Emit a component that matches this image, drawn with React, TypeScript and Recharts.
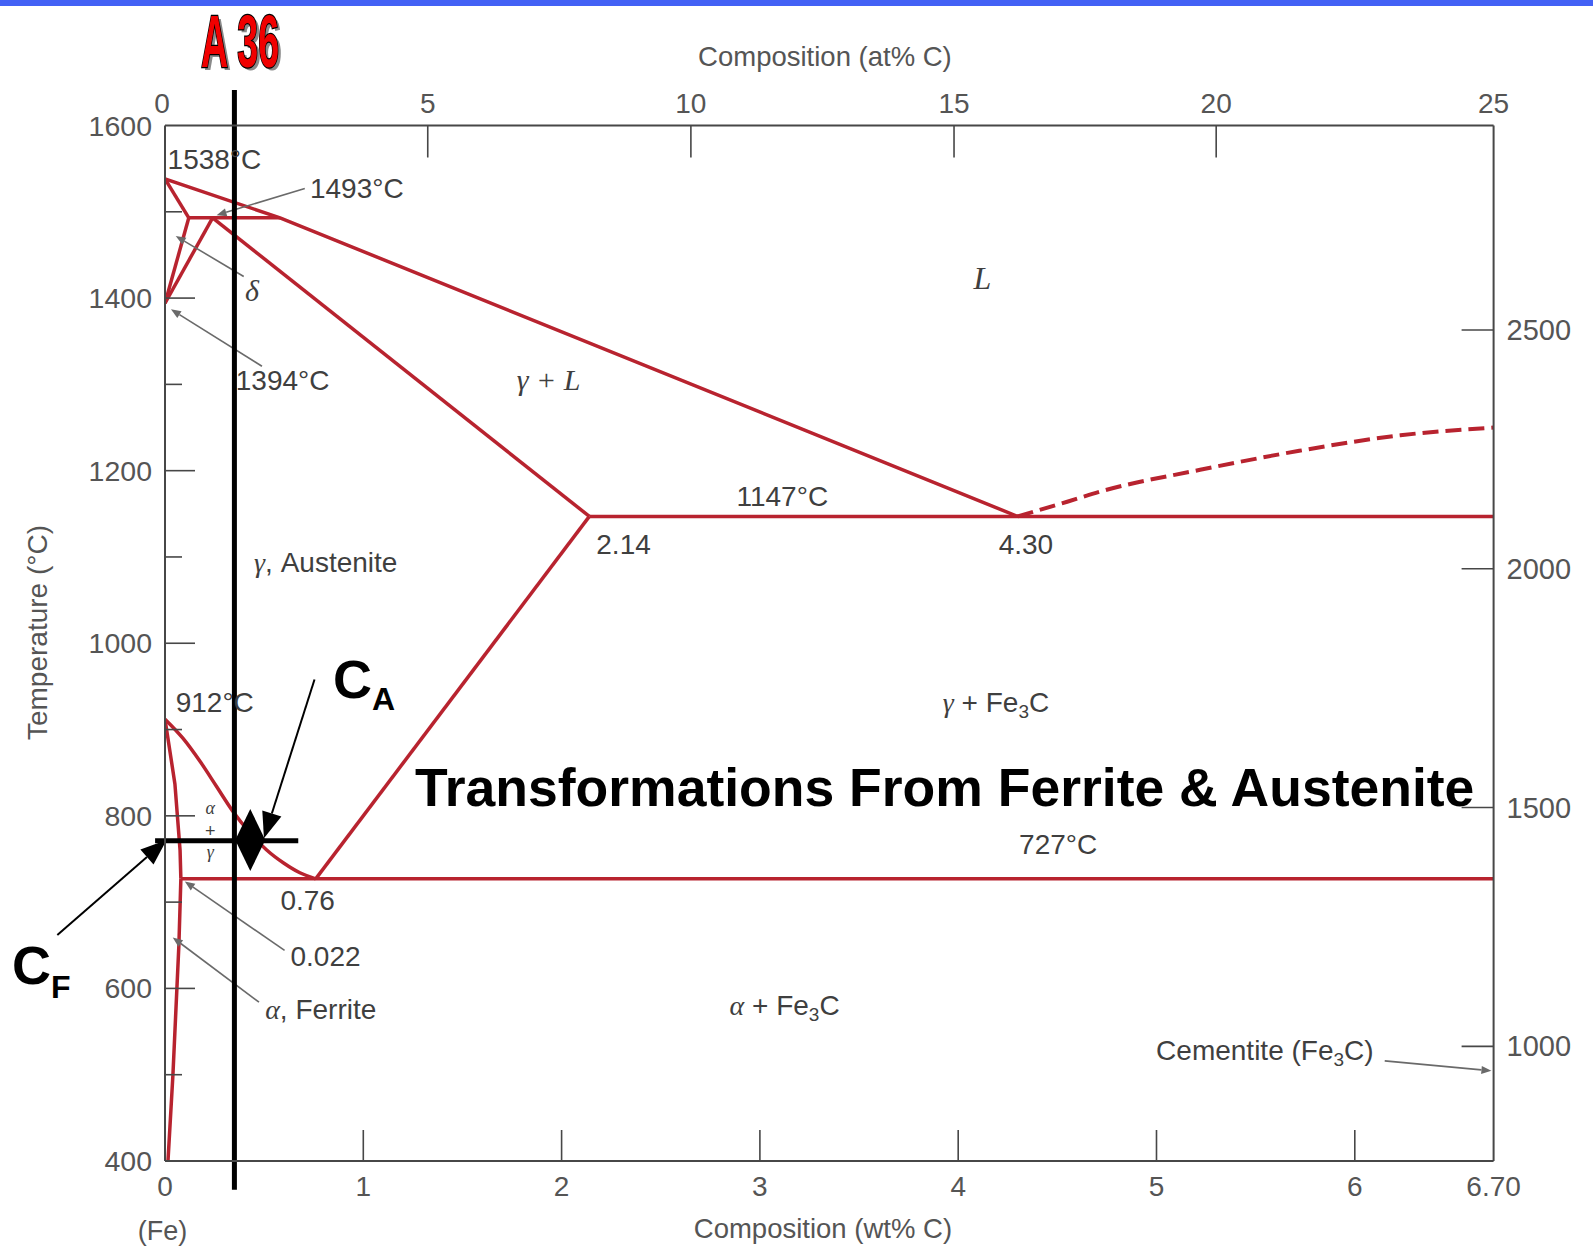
import React from "react";
import { ComposedChart, Line, XAxis, YAxis, ReferenceLine, ReferenceDot } from "recharts";

// Fe–Fe3C phase diagram: composition in wt% C (x), temperature in °C (y)
const liquidus = [{ x: 0, y: 1538 }, { x: 0.58, y: 1493 }, { x: 4.3, y: 1147 }];
const liquidusCementite = [
  { x: 4.3, y: 1147 }, { x: 4.55, y: 1164 }, { x: 4.72, y: 1176 }, { x: 5.22, y: 1201 },
  { x: 5.72, y: 1223 }, { x: 6.23, y: 1241 }, { x: 6.7, y: 1250 },
];
const deltaSolidus = [{ x: 0, y: 1538 }, { x: 0.12, y: 1493 }];
const peritectic = [{ x: 0.12, y: 1493 }, { x: 0.58, y: 1493 }];
const deltaSolvus = [{ x: 0.12, y: 1493 }, { x: 0, y: 1394 }];
const gammaDelta = [{ x: 0.24, y: 1493 }, { x: 0, y: 1394 }];
const gammaSolidus = [{ x: 0.24, y: 1493 }, { x: 2.14, y: 1147 }];
const eutectic = [{ x: 2.14, y: 1147 }, { x: 6.7, y: 1147 }];
const acm = [{ x: 0.76, y: 727 }, { x: 2.14, y: 1147 }];
const a3 = [
  { x: 0, y: 912 }, { x: 0.09, y: 890 }, { x: 0.18, y: 862 }, { x: 0.26, y: 834 },
  { x: 0.34, y: 806 }, { x: 0.43, y: 780 }, { x: 0.51, y: 761 }, { x: 0.6, y: 745 },
  { x: 0.68, y: 734 }, { x: 0.76, y: 727 },
];
const alphaGamma = [{ x: 0, y: 912 }, { x: 0.05, y: 837 }, { x: 0.076, y: 760 }, { x: 0.08, y: 727 }];
const eutectoid = [{ x: 0.08, y: 727 }, { x: 6.7, y: 727 }];
const alphaSolvus = [
  { x: 0.08, y: 727 }, { x: 0.07, y: 650 }, { x: 0.06, y: 600 }, { x: 0.04, y: 500 }, { x: 0.015, y: 400 },
];

const wtTicks = [0, 1, 2, 3, 4, 5, 6, 6.7];
const wtTickLabels = ["0", "1", "2", "3", "4", "5", "6", "6.70"];
// at% C ticks, placed where they fall on the wt% scale
const atTickPositions = [0, 1.325, 2.652, 3.979, 5.301, 6.7];
const atTickLabels = ["0", "5", "10", "15", "20", "25"];
const celsiusTicks = [400, 500, 600, 700, 800, 900, 1000, 1100, 1200, 1300, 1400, 1500, 1600];
const fahrenheitTicks = [1000, 1500, 2000, 2500];

const SANS = "'Liberation Sans', Arial, Helvetica, sans-serif";
const SERIF = "'Liberation Serif', 'DejaVu Serif', serif";
const NARROW = "'Liberation Sans Narrow', 'Liberation Sans', Arial, sans-serif";
const RED = "#b8232f";
const AXIS = "#474747";
const TICK_TEXT = "#555";
const LABEL = "#3f3f3f";
const LEADER = "#6a6a6a";

const boundaries = [
  { id: "liq", pts: liquidus },
  { id: "dsol", pts: deltaSolidus },
  { id: "peri", pts: peritectic },
  { id: "dsolv", pts: deltaSolvus },
  { id: "gd", pts: gammaDelta },
  { id: "gsol", pts: gammaSolidus },
  { id: "eut", pts: eutectic },
  { id: "acm", pts: acm },
  { id: "ag", pts: alphaGamma },
  { id: "eutd", pts: eutectoid },
  { id: "asolv", pts: alphaSolvus },
];

const bottomTick = (p: any) => {
  const i = wtTicks.indexOf(p.payload.value);
  const inner = i > 0 && i < wtTicks.length - 1;
  return (
    <g>
      {inner && <line x1={p.x} y1={p.y} x2={p.x} y2={p.y - 31} stroke={AXIS} strokeWidth={1.6} />}
      <text x={p.x} y={p.y + 35} textAnchor="middle" fontSize={28} fill={TICK_TEXT} fontFamily={SANS}>
        {wtTickLabels[i]}
      </text>
    </g>
  );
};

const topTick = (p: any) => {
  const i = atTickPositions.indexOf(p.payload.value);
  const inner = i > 0 && i < atTickPositions.length - 1;
  return (
    <g>
      {inner && <line x1={p.x} y1={p.y} x2={p.x} y2={p.y + 32} stroke={AXIS} strokeWidth={1.6} />}
      <text x={i === 0 ? p.x - 3 : p.x} y={p.y - 13} textAnchor="middle" fontSize={28} fill={TICK_TEXT} fontFamily={SANS}>
        {atTickLabels[i]}
      </text>
    </g>
  );
};

const leftTick = (p: any) => {
  const v = p.payload.value;
  const major = v % 200 === 0;
  const edge = v === 400 || v === 1600;
  return (
    <g>
      {!edge && <line x1={p.x} y1={p.y} x2={p.x + (major ? 30 : 17)} y2={p.y} stroke={AXIS} strokeWidth={1.6} />}
      {major && (
        <text x={p.x - 13} y={p.y + 10} textAnchor="end" fontSize={28.5} fill={TICK_TEXT} fontFamily={SANS}>
          {v}
        </text>
      )}
    </g>
  );
};

const rightTick = (p: any) => (
  <g>
    <line x1={p.x} y1={p.y} x2={p.x - 32} y2={p.y} stroke={AXIS} strokeWidth={1.6} />
    <text x={p.x + 13} y={p.y + 10} textAnchor="start" fontSize={29} fill={TICK_TEXT} fontFamily={SANS}>
      {p.payload.value}
    </text>
  </g>
);

const note = (key: string, x: number, y: number, content: React.ReactNode, style: any = {}, rotate = 0) => (
  <ReferenceDot
    key={key}
    xAxisId="wt"
    yAxisId="c"
    x={x}
    y={y}
    r={0}
    ifOverflow="visible"
    shape={(p: any) => (
      <text
        x={p.cx}
        y={p.cy}
        fontFamily={SANS}
        fontSize={28}
        fill={LABEL}
        transform={rotate ? `rotate(${rotate}, ${p.cx}, ${p.cy})` : undefined}
        {...style}
      >
        {content}
      </text>
    )}
  />
);

const arrowShape = (color: string, width: number, head: number, half: number) => (p: any) => {
  const { x1, y1, x2, y2 } = p;
  const a = Math.atan2(y2 - y1, x2 - x1);
  const bx = x2 - head * Math.cos(a);
  const by = y2 - head * Math.sin(a);
  const nx = -Math.sin(a) * half;
  const ny = Math.cos(a) * half;
  return (
    <g>
      <line x1={x1} y1={y1} x2={bx} y2={by} stroke={color} strokeWidth={width} />
      <polygon points={`${x2},${y2} ${bx + nx},${by + ny} ${bx - nx},${by - ny}`} fill={color} />
    </g>
  );
};

const arrow = (key: string, from: number[], to: number[], color: string, width: number, head: number, half: number) => (
  <ReferenceLine
    key={key}
    xAxisId="wt"
    yAxisId="c"
    ifOverflow="visible"
    segment={[{ x: from[0], y: from[1] }, { x: to[0], y: to[1] }]}
    shape={arrowShape(color, width, head, half)}
  />
);

const fe3c = (sub = 19) => (
  <>
    Fe<tspan fontSize={sub} dy={6}>3</tspan>
    <tspan dy={-6}>C</tspan>
  </>
);

const axisStyle = { stroke: AXIS, strokeWidth: 2 };

export default function App() {
  return (
    <div style={{ position: "absolute", left: 0, top: 0, width: 1593, height: 1253, background: "#fff", overflow: "hidden" }}>
      <div style={{ position: "absolute", left: 0, top: 0, width: 1593, height: 6, background: "#4361f5" }} />
      <ComposedChart width={1593} height={1253} margin={{ top: 124.5, right: 98.4, bottom: 91, left: 164 }}>
        <XAxis
          xAxisId="wt"
          dataKey="x"
          type="number"
          domain={[0, 6.7]}
          allowDataOverflow
          ticks={wtTicks}
          interval={0}
          height={1}
          tickSize={0}
          tickMargin={0}
          tickLine={false}
          axisLine={axisStyle}
          tick={bottomTick}
        />
        <XAxis
          xAxisId="at"
          dataKey="x"
          orientation="top"
          type="number"
          domain={[0, 6.7]}
          allowDataOverflow
          ticks={atTickPositions}
          interval={0}
          height={1}
          tickSize={0}
          tickMargin={0}
          tickLine={false}
          axisLine={axisStyle}
          tick={topTick}
        />
        <YAxis
          yAxisId="c"
          type="number"
          domain={[400, 1600]}
          allowDataOverflow
          ticks={celsiusTicks}
          interval={0}
          width={1}
          tickSize={0}
          tickMargin={0}
          tickLine={false}
          axisLine={axisStyle}
          tick={leftTick}
        />
        <YAxis
          yAxisId="f"
          orientation="right"
          type="number"
          domain={[760, 2928]}
          allowDataOverflow
          ticks={fahrenheitTicks}
          interval={0}
          width={1}
          tickSize={0}
          tickMargin={0}
          tickLine={false}
          axisLine={axisStyle}
          tick={rightTick}
        />

        {boundaries.map((b) => (
          <Line
            key={b.id}
            xAxisId="wt"
            yAxisId="c"
            data={b.pts}
            dataKey="y"
            type="linear"
            stroke={RED}
            strokeWidth={3.5}
            dot={false}
            activeDot={false}
            isAnimationActive={false}
          />
        ))}
        <Line
          xAxisId="wt"
          yAxisId="c"
          data={a3}
          dataKey="y"
          type="monotone"
          stroke={RED}
          strokeWidth={3.5}
          dot={false}
          activeDot={false}
          isAnimationActive={false}
        />
        <Line
          xAxisId="wt"
          yAxisId="c"
          data={liquidusCementite}
          dataKey="y"
          type="monotone"
          stroke={RED}
          strokeWidth={4}
          strokeDasharray="16 7"
          dot={false}
          activeDot={false}
          isAnimationActive={false}
        />

        {/* axis titles */}
        {note("t-at", 3.328, 1669, "Composition (at% C)", { textAnchor: "middle", fontSize: 27.5, fill: TICK_TEXT })}
        {note("t-wt", 3.318, 310.6, "Composition (wt% C)", { textAnchor: "middle", fontSize: 27.5, fill: TICK_TEXT })}
        {note("t-fe", -0.012, 308, "(Fe)", { textAnchor: "middle", fontSize: 27, fill: TICK_TEXT })}
        {note("t-temp", -0.597, 1012.4, "Temperature (°C)", { textAnchor: "middle", fontSize: 28, fill: TICK_TEXT }, -90)}

        {/* phase and point labels */}
        {note("n1538", 0.013, 1550, "1538°C")}
        {note("n1493", 0.731, 1516, "1493°C")}
        {note("n1394", 0.357, 1293, "1394°C")}
        {note("ndelta", 0.439, 1397, "δ", { textAnchor: "middle", fontFamily: SERIF, fontStyle: "italic", fontSize: 30 })}
        {note("nL", 4.122, 1410, "L", { textAnchor: "middle", fontFamily: SERIF, fontStyle: "italic", fontSize: 32 })}
        {note("ngL", 1.934, 1293, "γ + L", { textAnchor: "middle", fontFamily: SERIF, fontStyle: "italic", fontSize: 30 })}
        {note("n1147", 3.113, 1159.5, "1147°C", { textAnchor: "middle" })}
        {note("n214", 2.175, 1103, "2.14")}
        {note("n430", 4.204, 1103, "4.30")}
        {note(
          "naus",
          0.449,
          1083,
          <>
            <tspan fontFamily={SERIF} fontStyle="italic">γ</tspan>, Austenite
          </>
        )}
        {note("n912", 0.054, 920, "912°C")}
        {note(
          "ngfe",
          3.922,
          920,
          <>
            <tspan fontFamily={SERIF} fontStyle="italic">γ</tspan> + {fe3c()}
          </>
        )}
        {note("n727", 4.307, 756, "727°C")}
        {note("na", 0.228, 802, "α", { textAnchor: "middle", fontFamily: SERIF, fontStyle: "italic", fontSize: 18 })}
        {note("nplus", 0.228, 776, "+", { textAnchor: "middle", fontSize: 18 })}
        {note("ng", 0.228, 751, "γ", { textAnchor: "middle", fontFamily: SERIF, fontStyle: "italic", fontSize: 18 })}
        {note("n076", 0.582, 691, "0.76")}
        {note("n0022", 0.633, 626, "0.022")}
        {note(
          "nfer",
          0.505,
          564,
          <>
            <tspan fontFamily={SERIF} fontStyle="italic">α</tspan>, Ferrite
          </>
        )}
        {note(
          "nafe",
          2.847,
          569,
          <>
            <tspan fontFamily={SERIF} fontStyle="italic">α</tspan> + {fe3c()}
          </>
        )}
        {note("ncem", 4.998, 516.5, <>Cementite ({fe3c()})</>)}

        {/* leaders */}
        {arrow("l1493", [0.705, 1527], [0.26, 1496], LEADER, 1.6, 10, 4)}
        {arrow("l1394", [0.489, 1321], [0.03, 1387], LEADER, 1.6, 10, 4)}
        {arrow("ldelta", [0.397, 1425], [0.054, 1472], LEADER, 1.6, 10, 4)}
        {arrow("l0022", [0.603, 644], [0.1, 724], LEADER, 1.6, 10, 4)}
        {arrow("lfer", [0.474, 584], [0.039, 659], LEADER, 1.6, 10, 4)}
        {arrow("lcem", [6.151, 516], [6.689, 504.5], LEADER, 1.6, 10, 4)}

        {/* black overlay: A36 composition, tie line and concentrations */}
        <ReferenceLine
          xAxisId="wt"
          yAxisId="c"
          ifOverflow="visible"
          segment={[{ x: 0.35, y: 1641 }, { x: 0.35, y: 366.6 }]}
          stroke="#000"
          strokeWidth={5}
        />
        <ReferenceLine
          xAxisId="wt"
          yAxisId="c"
          ifOverflow="visible"
          segment={[{ x: -0.05, y: 771 }, { x: 0.672, y: 771 }]}
          stroke="#000"
          strokeWidth={5}
        />
        <ReferenceLine
          xAxisId="wt"
          yAxisId="c"
          ifOverflow="visible"
          segment={[{ x: 0.43, y: 808 }, { x: 0.43, y: 736 }]}
          shape={(p: any) => {
            const my = (p.y1 + p.y2) / 2;
            return (
              <polygon
                points={`${p.x1},${p.y1} ${p.x1 + 15},${my} ${p.x2},${p.y2} ${p.x1 - 15},${my}`}
                fill="#000"
              />
            );
          }}
        />
        {arrow("aCA", [0.754, 958], [0.499, 774], "#000", 2, 26, 10)}
        {arrow("aCF", [-0.543, 662], [0.008, 772], "#000", 2, 26, 10)}
        {note(
          "CA",
          0.847,
          937,
          <>
            C<tspan fontSize={32} dy={12}>A</tspan>
          </>,
          { fontSize: 54, fontWeight: "bold", fill: "#000" }
        )}
        {note(
          "CF",
          -0.772,
          604.7,
          <>
            C<tspan fontSize={32} dy={14}>F</tspan>
          </>,
          { fontSize: 54, fontWeight: "bold", fill: "#000" }
        )}
        {note("title", 1.261, 811.8, "Transformations From Ferrite & Austenite", {
          fontSize: 53.5,
          fontWeight: "bold",
          fill: "#000",
        })}
        {note("a36shadow", 0.197, 1664.5, "A 36", {
          fontFamily: NARROW,
          fontWeight: "bold",
          fontSize: 74,
          textLength: 78,
          lengthAdjust: "spacingAndGlyphs",
          fill: "#8a8a8a",
        })}
        {note("a36", 0.182, 1667.5, "A 36", {
          fontFamily: NARROW,
          fontWeight: "bold",
          fontSize: 74,
          textLength: 78,
          lengthAdjust: "spacingAndGlyphs",
          fill: "#f00000",
          stroke: "#000",
          strokeWidth: 2.5,
          paintOrder: "stroke",
        })}
      </ComposedChart>
    </div>
  );
}
